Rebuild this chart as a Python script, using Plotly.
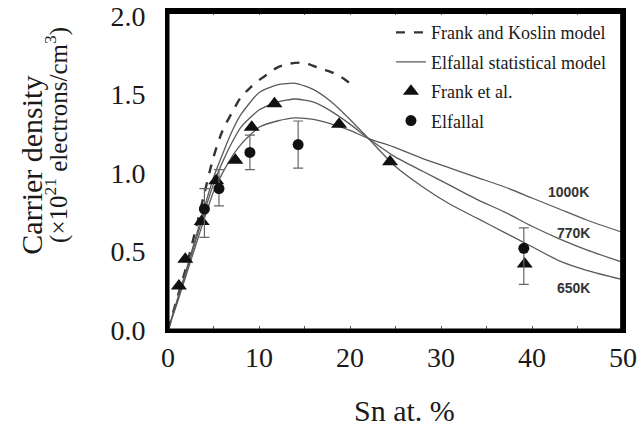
import plotly.graph_objects as go

# Model curves
x_model = [0, 1, 2, 3, 4, 5, 6, 7, 8, 10, 12, 14, 16, 18, 20, 22, 25, 28, 31, 34, 37, 40, 43, 46, 50]
y_650 = [0, 0.19, 0.38, 0.58, 0.78, 0.97, 1.12, 1.26, 1.37, 1.51, 1.56, 1.57, 1.53, 1.45, 1.34, 1.22, 1.04, 0.91, 0.80, 0.71, 0.62, 0.53, 0.44, 0.38, 0.32]
y_770 = [0, 0.18, 0.37, 0.56, 0.75, 0.93, 1.07, 1.19, 1.29, 1.40, 1.45, 1.47, 1.45, 1.39, 1.31, 1.22, 1.10, 1.01, 0.92, 0.83, 0.75, 0.66, 0.58, 0.51, 0.43]
y_1000 = [0, 0.17, 0.35, 0.53, 0.71, 0.88, 1.00, 1.10, 1.18, 1.29, 1.33, 1.35, 1.34, 1.31, 1.27, 1.22, 1.16, 1.09, 1.03, 0.97, 0.91, 0.84, 0.77, 0.70, 0.62]

x_fk = [0, 1, 2, 3, 4, 5, 6, 7, 8, 9, 10, 11, 12, 13, 14, 15, 16, 17, 18, 19, 20]
y_fk = [0, 0.2, 0.4, 0.63, 0.87, 1.10, 1.27, 1.38, 1.48, 1.54, 1.59, 1.63, 1.67, 1.69, 1.70, 1.70, 1.68, 1.66, 1.64, 1.61, 1.57]

# Experimental data
x_frank = [1.2, 1.9, 3.7, 5.3, 7.4, 9.2, 11.7, 18.8, 24.4, 39.2]
y_frank = [0.28, 0.45, 0.69, 0.95, 1.08, 1.29, 1.44, 1.31, 1.07, 0.42]

x_elf = [4.0, 5.6, 9.0, 14.3, 39.1]
y_elf = [0.77, 0.90, 1.13, 1.18, 0.52]
err_plus = [0.13, 0.12, 0.11, 0.15, 0.13]
err_minus = [0.18, 0.11, 0.11, 0.15, 0.23]

temp_labels = ["1000K", "770K", "650K"]
label_x = [44.0, 44.6, 44.6]
label_y = [0.88, 0.62, 0.27]

x_range = [0, 50]
y_range = [0, 2.03]
x_tick_vals = [0, 5, 10, 15, 20, 25, 30, 35, 40, 45, 50]
x_tick_text = ["0", "", "10", "", "20", "", "30", "", "40", "", "50"]
y_tick_vals = [0, 0.5, 1.0, 1.5, 2.0]
y_tick_text = ["0.0  ", "0.5  ", "1.0  ", "1.5  ", "2.0  "]

serif = "Liberation Serif"
curve_col = "#5a5a5a"
text_col = "#1a1a1a"

fig = go.Figure()
fig.add_trace(go.Scatter(x=x_fk, y=y_fk, mode="lines", name="Frank and Koslin model",
                         line=dict(color="#333333", width=2.4, dash="dash", shape="spline", smoothing=0.8),
                         legendgroup="a"))
for i, yy in enumerate([y_650, y_770, y_1000]):
    fig.add_trace(go.Scatter(x=x_model, y=yy, mode="lines", name="Elfallal statistical model",
                             line=dict(color=curve_col, width=1.3, shape="spline", smoothing=0.6),
                             legendgroup="b", showlegend=(i == 0)))
fig.add_trace(go.Scatter(x=x_frank, y=y_frank, mode="markers", name="Frank et al.",
                         marker=dict(symbol="triangle-up", size=14, color="#111111"),
                         legendgroup="c"))
fig.add_trace(go.Scatter(x=x_elf, y=y_elf, mode="markers", name="Elfallal",
                         marker=dict(symbol="circle", size=11, color="#111111"),
                         error_y=dict(type="data", symmetric=False, array=err_plus, arrayminus=err_minus,
                                      color="#666666", thickness=1.2, width=5),
                         legendgroup="d"))

for t, lx, ly in zip(temp_labels, label_x, label_y):
    fig.add_annotation(x=lx, y=ly, text="<b>" + t + "</b>", showarrow=False,
                       font=dict(family="Liberation Sans", size=14, color="#333333"))

fig.add_annotation(xref="paper", yref="paper", x=-0.302, y=0.517, textangle=-90,
                   xanchor="center", yanchor="middle",
                   text="Carrier density", showarrow=False,
                   font=dict(family=serif, size=30, color=text_col))
fig.add_annotation(xref="paper", yref="paper", x=-0.245, y=0.61, textangle=-90,
                   xanchor="center", yanchor="middle",
                   text="(×10<sup>21</sup> electrons/cm<sup>3</sup>)", showarrow=False,
                   font=dict(family=serif, size=25, color=text_col))
fig.add_annotation(xref="paper", yref="paper", x=0.52, y=-0.252,
                   xanchor="center", yanchor="middle",
                   text="Sn at. %", showarrow=False,
                   font=dict(family=serif, size=30, color=text_col))

# plot frame: full rectangle plus slightly inset top/right edges
fig.add_shape(type="rect", xref="paper", yref="paper", x0=0, y0=0, x1=1, y1=1,
              line=dict(color="black", width=3), fillcolor="rgba(0,0,0,0)", layer="above")
fig.add_shape(type="line", xref="paper", yref="paper", x0=0, y0=0.995, x1=1, y1=0.995,
              line=dict(color="black", width=3), layer="above")
fig.add_shape(type="line", xref="paper", yref="paper", x0=0.997, y0=0, x1=0.997, y1=1,
              line=dict(color="black", width=3), layer="above")

fig.update_layout(
    width=640, height=428,
    margin=dict(l=168, r=17, t=11, b=98, autoexpand=False),
    paper_bgcolor="white", plot_bgcolor="white",
    showlegend=True,
    legend=dict(x=0.49, y=0.99, xanchor="left", yanchor="top", bgcolor="rgba(0,0,0,0)",
                font=dict(family=serif, size=18, color=text_col), tracegroupgap=3,
                itemwidth=30),
    xaxis=dict(range=x_range, tickmode="array", tickvals=x_tick_vals, ticktext=x_tick_text,
               ticks="inside", ticklen=4, tickcolor="#555",
               showline=True, linewidth=3, linecolor="black", mirror="all",
               showgrid=False, zeroline=False, automargin=False,
               tickfont=dict(family=serif, size=28, color=text_col)),
    yaxis=dict(range=y_range, tickmode="array", tickvals=y_tick_vals, ticktext=y_tick_text,
               ticks="",
               showline=True, linewidth=3, linecolor="black", mirror="all",
               showgrid=False, zeroline=False, automargin=False,
               tickfont=dict(family=serif, size=28, color=text_col)),
)

fig.write_html("out.html")
